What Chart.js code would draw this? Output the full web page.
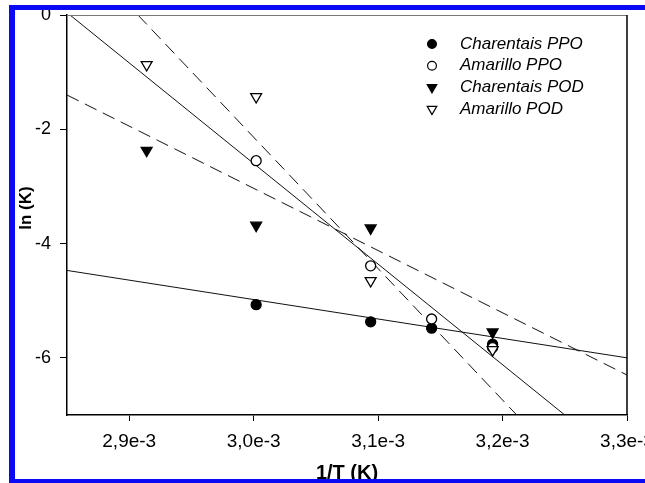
<!DOCTYPE html>
<html>
<head>
<meta charset="utf-8">
<script src="https://cdn.jsdelivr.net/npm/chart.js@4/dist/chart.umd.min.js"></script>
<style>
  html, body { margin: 0; padding: 0; background: #fff; overflow: hidden; }
  #wrap { position: relative; width: 645px; height: 483px; }
  #c { position: absolute; left: 0; top: 0; }
  #frame {
    position: absolute; left: 9px; top: 5px; width: 700px; height: 469px;
    border-top: 5px solid #0a0af5; border-left: 6px solid #0a0af5; border-bottom: 4px solid #0a0af5;
    pointer-events: none;
  }
</style>
</head>
<body>
<div id="wrap">
  <canvas id="c" width="645" height="483"></canvas>
  <div id="frame"></div>
</div>
<script>
// Axis ticks
const xTicks = [0.0029, 0.0030, 0.0031, 0.0032, 0.0033];
const xTickLabels = ['2,9e-3', '3,0e-3', '3,1e-3', '3,2e-3', '3,3e-3'];
const yTicks = [-6, -4, -2, 0];
const yTickLabels = ['-6', '-4', '-2', '0'];
const yTitle = 'ln (K)';
const xTitle = '1/T (K)';

// Measured ln(K) against 1/T
const ppoX = [0.003002, 0.003094, 0.003143, 0.003192];
const charentaisPPO = [-5.07, -5.37, -5.48, -5.76];
const amarilloPPO = [-2.55, -4.39, -5.32, -5.82];

const podX = [0.002914, 0.003002, 0.003094, 0.003192];
const charentaisPOD = [-2.37, -3.68, -3.73, -5.55];
const amarilloPOD = [-0.87, -1.43, -4.65, -5.86];

// Arrhenius fit lines (end points)
const fitCharentaisPPO_x = [0.00285, 0.0033];
const fitCharentaisPPO_y = [-4.47, -6.00];
const fitAmarilloPPO_x = [0.0028524, 0.00325];
const fitAmarilloPPO_y = [0, -7];
const fitCharentaisPOD_x = [0.00285, 0.0033];
const fitCharentaisPOD_y = [-1.40, -6.30];
const fitAmarilloPOD_x = [0.002907, 0.0032114];
const fitAmarilloPOD_y = [0, -7];

const FONT = "'Liberation Sans', Arial, Helvetica, sans-serif";
const pts = (xs, ys) => xs.map((x, i) => ({ x: x, y: ys[i] }));

// lower "order" is painted on top
function markerSet(label, xs, ys, style, filled, order) {
  return {
    label: label,
    data: pts(xs, ys),
    showLine: false,
    pointStyle: style,
    rotation: style === 'triangle' ? 180 : 0,
    pointRadius: style === 'triangle' ? 6.3 : 5,
    pointBorderWidth: 1.3,
    pointBackgroundColor: filled ? '#000' : '#fff',
    pointBorderColor: '#000',
    order: order,
    isMarker: true
  };
}
function fitLine(xs, ys, dash) {
  return {
    data: pts(xs, ys),
    showLine: true,
    pointRadius: 0,
    borderColor: '#111',
    borderWidth: 1,
    borderDash: dash,
    fill: false,
    order: 10
  };
}

// Plot frame on top/right, the y title and the inset legend
const frameAndLegend = {
  id: 'frameAndLegend',
  afterDraw(chart) {
    const { ctx, chartArea: a } = chart;
    ctx.save();
    ctx.strokeStyle = '#777';
    ctx.lineWidth = 1.2;
    ctx.beginPath(); ctx.moveTo(a.left, a.top + 0.5); ctx.lineTo(a.right, a.top + 0.5); ctx.stroke();
    ctx.strokeStyle = '#000';
    ctx.lineWidth = 1.5;
    ctx.beginPath(); ctx.moveTo(a.right, a.top); ctx.lineTo(a.right, a.bottom); ctx.stroke();

    // rotated y-axis title
    ctx.save();
    ctx.translate(26, 208);
    ctx.rotate(-Math.PI / 2);
    ctx.font = 'bold 17px ' + FONT;
    ctx.fillStyle = '#000';
    ctx.textAlign = 'center';
    ctx.textBaseline = 'middle';
    ctx.fillText(yTitle, 0, 0);
    ctx.restore();

    const markers = chart.data.datasets.filter(d => d.isMarker);
    const mx = 432, tx = 460, y0 = 44, dy = 21.7;
    ctx.font = 'italic 17px ' + FONT;
    ctx.textBaseline = 'middle';
    ctx.textAlign = 'left';
    markers.forEach((d, i) => {
      const y = y0 + i * dy;
      ctx.fillStyle = d.pointBackgroundColor;
      ctx.strokeStyle = d.pointBorderColor;
      ctx.lineWidth = 1.2;
      Chart.helpers.drawPoint(ctx, {
        pointStyle: d.pointStyle,
        rotation: d.rotation,
        radius: d.pointStyle === 'triangle' ? 5.5 : 4.4,
        borderWidth: 1.2
      }, mx, y);
      ctx.fillStyle = '#000';
      ctx.fillText(d.label, tx, y);
    });
    ctx.restore();
  }
};

new Chart(document.getElementById('c'), {
  type: 'scatter',
  data: {
    datasets: [
      markerSet('Charentais PPO', ppoX, charentaisPPO, 'circle', true, 3),
      markerSet('Amarillo PPO', ppoX, amarilloPPO, 'circle', false, 1),
      markerSet('Charentais POD', podX, charentaisPOD, 'triangle', true, 2),
      markerSet('Amarillo POD', podX, amarilloPOD, 'triangle', false, 0),
      fitLine(fitCharentaisPPO_x, fitCharentaisPPO_y, []),
      fitLine(fitAmarilloPPO_x, fitAmarilloPPO_y, []),
      fitLine(fitCharentaisPOD_x, fitCharentaisPOD_y, [13, 7]),
      fitLine(fitAmarilloPOD_x, fitAmarilloPOD_y, [13, 7])
    ]
  },
  options: {
    responsive: false,
    animation: false,
    devicePixelRatio: 1,
    layout: { padding: { left: 0, top: 15, right: 18, bottom: 0 } },
    plugins: { legend: { display: false }, tooltip: { enabled: false } },
    scales: {
      x: {
        type: 'linear', min: 0.00285, max: 0.0033,
        afterBuildTicks: s => { s.ticks = xTicks.map(v => ({ value: v })); },
        afterFit: s => { s.height = 68; s.paddingLeft = 0; s.paddingRight = 0; },
        ticks: {
          callback: (v, i) => xTickLabels[i],
          font: { family: FONT, size: 19 }, color: '#000',
          padding: 9, maxRotation: 0, autoSkip: false
        },
        grid: { drawOnChartArea: false, drawTicks: true, tickLength: 6, tickColor: '#000', color: '#000' },
        border: { display: true, color: '#000', width: 1.5 },
        title: {
          display: true, text: xTitle, color: '#000',
          font: { family: FONT, size: 20, weight: 'bold' }, padding: { top: 0, bottom: -2 }
        }
      },
      y: {
        type: 'linear', min: -7, max: 0,
        afterBuildTicks: s => { s.ticks = yTicks.map(v => ({ value: v })); },
        afterFit: s => { s.width = 67; s.paddingTop = 0; s.paddingBottom = 0; },
        ticks: {
          callback: (v, i) => yTickLabels[i],
          font: { family: FONT, size: 18 }, color: '#000',
          padding: 9, autoSkip: false
        },
        grid: { drawOnChartArea: false, drawTicks: true, tickLength: 7, tickColor: '#000', color: '#000' },
        border: { display: true, color: '#000', width: 1.5 },
        title: { display: false }
      }
    }
  },
  plugins: [frameAndLegend]
});
</script>
</body>
</html>
